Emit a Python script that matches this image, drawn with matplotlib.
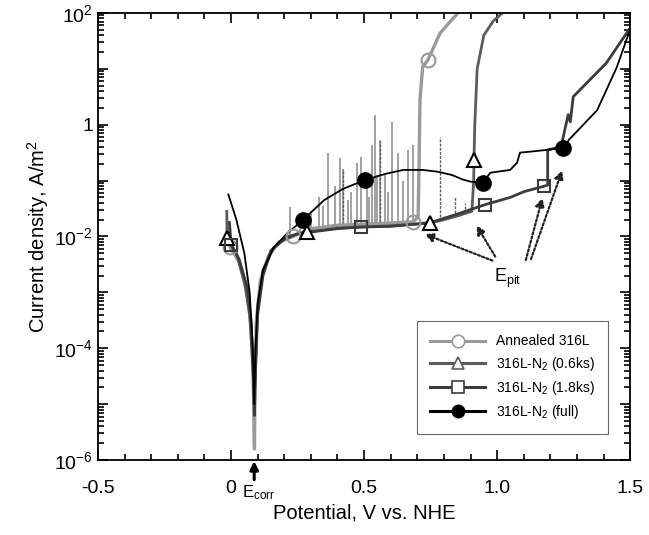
import numpy as np
import matplotlib
matplotlib.use("Agg")
import matplotlib.pyplot as plt
from matplotlib.ticker import FixedLocator, LogLocator, NullFormatter, MultipleLocator
from matplotlib.transforms import blended_transform_factory

plt.rcParams['font.family'] = ['Liberation Sans', 'DejaVu Sans']
plt.rcParams['mathtext.fontset'] = 'custom'
plt.rcParams['mathtext.rm'] = 'Liberation Sans'
plt.rcParams['mathtext.it'] = 'Liberation Sans'

# ----------- curves (V vs NHE, log10 of A/m2) ---------
ann_v = [-0.006, -0.004, 0.03, 0.06, 0.075, 0.083, 0.086, 0.088, 0.090, 0.095, 0.11, 0.14,
         0.18, 0.233, 0.30, 0.40, 0.50, 0.60, 0.684, 0.703, 0.707, 0.71, 0.72, 0.74, 0.786, 0.853]
ann_log = [-1.85, -2.19, -2.45, -3.0, -3.6, -4.5, -5.4, -5.8, -4.6, -3.5, -2.8, -2.35,
           -2.1, -2.0, -1.86, -1.8, -1.78, -1.76, -1.74, -1.65, -0.6, 0.44, 1.03, 1.16, 1.64, 2.0]
ann_mv = [-0.004, 0.233, 0.684, 0.74]
ann_ml = [-2.19, -2.0, -1.74, 1.16]
# metastable pitting spikes of the annealed steel
ann_spk_v = [0.222, 0.26, 0.30, 0.33, 0.345, 0.365, 0.39, 0.41, 0.42, 0.44, 0.45, 0.474,
             0.49, 0.51, 0.52, 0.53, 0.541, 0.55, 0.56, 0.58, 0.59, 0.605, 0.628, 0.645,
             0.665, 0.684]
ann_spk_top = [-1.47, -1.6, -1.55, -1.3, -1.45, -0.50, -1.1, -0.59, -0.80, -1.35, -1.2, -0.68,
               -0.58, -1.0, -1.3, -0.36, 0.18, -0.9, -0.27, -0.9, -1.2, 0.05, -0.50, -1.0,
               -0.45, -0.36]

n06_v = [-0.016, -0.015, 0.02, 0.05, 0.07, 0.082, 0.087, 0.092, 0.10, 0.12, 0.16, 0.21,
         0.286, 0.40, 0.55, 0.70, 0.748, 0.80, 0.86, 0.905, 0.912, 0.913, 0.916, 0.925,
         0.95, 0.985, 1.02]
n06_log = [-1.55, -2.02, -2.3, -2.8, -3.4, -4.3, -5.0, -4.2, -3.3, -2.6, -2.2, -2.0,
           -1.92, -1.85, -1.82, -1.78, -1.76, -1.7, -1.62, -1.55, -1.0, -0.63, 0.0, 1.0,
           1.6, 1.85, 2.0]
n06_mv = [-0.015, 0.286, 0.748, 0.912]
n06_ml = [-2.02, -1.92, -1.76, -0.63]
n06_spk_v = [0.42, 0.56, 0.786, 0.84, 0.88]
n06_spk_top = [-0.8, -0.3, -0.22, -1.3, -1.4]

n18_v = [-0.006, 0.0, 0.03, 0.06, 0.075, 0.084, 0.088, 0.092, 0.10, 0.12, 0.15, 0.20,
         0.25, 0.40, 0.49, 0.60, 0.75, 0.85, 0.955, 1.05, 1.10, 1.177, 1.19, 1.19,
         1.24, 1.267, 1.275, 1.286, 1.41, 1.49, 1.50]
n18_log = [-1.75, -2.15, -2.4, -2.9, -3.5, -4.5, -5.2, -4.4, -3.4, -2.7, -2.25, -2.05,
           -1.95, -1.86, -1.83, -1.82, -1.75, -1.6, -1.43, -1.3, -1.2, -1.1, -1.08, -0.45,
           -0.40, 0.18, 0.05, 0.5, 1.1, 1.66, 1.73]
n18_mv = [0.0, 0.49, 0.955, 1.177]
n18_ml = [-2.15, -1.83, -1.43, -1.1]

full_v = [-0.01, 0.02, 0.05, 0.07, 0.082, 0.087, 0.092, 0.10, 0.12, 0.16, 0.21, 0.271,
          0.35, 0.42, 0.504, 0.58, 0.647, 0.72, 0.774, 0.83, 0.87, 0.90, 0.947, 0.974,
          1.049, 1.075, 1.086, 1.11, 1.19, 1.248, 1.27, 1.376, 1.45, 1.49, 1.50]
full_log = [-1.25, -1.7, -2.3, -3.0, -4.0, -5.0, -4.0, -3.2, -2.6, -2.2, -1.95, -1.70,
            -1.35, -1.15, -0.99, -0.88, -0.81, -0.81, -0.84, -0.9, -0.98, -1.02, -1.04, -0.86,
            -0.81, -0.68, -0.5, -0.49, -0.45, -0.415, -0.27, 0.26, 1.03, 1.57, 1.7]
full_mv = [0.271, 0.504, 0.947, 1.248]
full_ml = [-1.70, -0.99, -1.04, -0.415]

e_corr = 0.087
# E_pit arrows: (tail V, tail log i, head V, head log i)
pit_arrows = [(0.992, -2.45, 0.718, -1.94),
              (0.998, -2.40, 0.917, -1.76),
              (1.105, -2.47, 1.173, -1.26),
              (1.124, -2.45, 1.248, -0.77)]

labels = ['Annealed 316L', '316L-N$_2$ (0.6ks)', '316L-N$_2$ (1.8ks)', '316L-N$_2$ (full)']

c_ann, c_06, c_18, c_full = '#9a9a9a', '#5c5c5c', '#3c3c3c', 'black'

fig = plt.figure(figsize=(6.49, 5.35), dpi=100)
ax = fig.add_axes([0.151, 0.140, 0.820, 0.836])

p = lambda l: 10.0 ** np.asarray(l)

# spikes first so the curves sit on top
ax.vlines(ann_spk_v, p(np.interp(ann_spk_v, ann_v, ann_log)), p(ann_spk_top), color=c_ann, lw=1.3)
ax.vlines(n06_spk_v, p(np.interp(n06_spk_v, n06_v, n06_log)), p(n06_spk_top), color=c_06, lw=1.0,
          linestyles=(0, (2, 1)))

ax.plot(ann_v, p(ann_log), color=c_ann, lw=2.4)
ax.plot(n06_v, p(n06_log), color=c_06, lw=2.0)
ax.plot(n18_v, p(n18_log), color=c_18, lw=2.0)
ax.plot(full_v, p(full_log), color=c_full, lw=1.3)

ms = 10
ax.plot(ann_mv, p(ann_ml), 'o', ms=ms, mfc='none', mec=c_ann, mew=1.5)
ax.plot(n06_mv, p(n06_ml), '^', ms=ms, mfc='white', mec='black', mew=1.5)
ax.plot(n18_mv, p(n18_ml), 's', ms=ms - 1, mfc='none', mec=c_18, mew=1.5)
ax.plot(full_mv, p(full_ml), 'o', ms=ms + 1, mfc='black', mec='black')

# legend proxies
h = [ax.plot([], [], color=c_ann, lw=2.2, marker='o', ms=9, mfc='white', mec=c_ann, mew=1.2)[0],
     ax.plot([], [], color=c_06, lw=2.2, marker='^', ms=9, mfc='white', mec=c_06, mew=1.2)[0],
     ax.plot([], [], color=c_18, lw=2.2, marker='s', ms=9, mfc='white', mec=c_18, mew=1.2)[0],
     ax.plot([], [], color=c_full, lw=2.2, marker='o', ms=9, mfc='black', mec='black')[0]]
leg = ax.legend(h, labels, loc='lower right', bbox_to_anchor=(0.971, 0.042), fontsize=10,
                fancybox=False, edgecolor='#444444', handlelength=3.9, borderpad=0.95,
                labelspacing=0.45)
leg.get_frame().set_linewidth(0.8)

ax.set_yscale('log')
ax.set_xlim(-0.5, 1.5)
ax.set_ylim(1e-6, 1e2)
ax.xaxis.set_major_locator(FixedLocator([-0.5, 0, 0.5, 1.0, 1.5]))
ax.set_xticklabels(['-0.5', '0', '0.5', '1.0', '1.5'])
ax.xaxis.set_minor_locator(MultipleLocator(0.1))
ax.yaxis.set_major_locator(LogLocator(base=10, numticks=20))
ax.yaxis.set_minor_locator(LogLocator(base=10, subs=np.arange(2, 10), numticks=20))
ax.yaxis.set_minor_formatter(NullFormatter())
ax.set_yticks([1e-6, 1e-5, 1e-4, 1e-3, 1e-2, 1e-1, 1, 10, 100])
ax.set_yticklabels(['10$^{-6}$', '', '10$^{-4}$', '', '10$^{-2}$', '', '1', '', '10$^{2}$'])
ax.tick_params(which='both', direction='in', top=True, right=True, labelsize=14, width=1.2)
ax.tick_params(which='major', length=7)
ax.tick_params(which='minor', length=4)
ax.tick_params(axis='x', pad=14)
for s in ax.spines.values():
    s.set_linewidth(1.3)

ax.set_xlabel('Potential, V vs. NHE', fontsize=14.5, labelpad=5)
ax.set_ylabel('Current density, A/m$^2$', fontsize=14.5, labelpad=2)

tr = blended_transform_factory(ax.transData, ax.transAxes)
ax.annotate('', xy=(e_corr, 0.004), xycoords=tr, xytext=(e_corr, -0.05), textcoords=tr,
            arrowprops=dict(arrowstyle='-|>', color='black', lw=2.2, mutation_scale=12),
            annotation_clip=False)
ax.text(0.042, -0.052, 'E$_{\\mathrm{corr}}$', transform=tr, fontsize=12, va='top', ha='left')

for tv, tl, hv, hl in pit_arrows:
    ax.annotate('', xy=(hv, 10 ** hl), xytext=(tv, 10 ** tl),
                arrowprops=dict(arrowstyle='-|>', color='#222222', lw=1.6, linestyle=(0, (1, 1)),
                                mutation_scale=13))
ax.text(1.04, 10 ** -2.55, 'E$_{\\mathrm{pit}}$', fontsize=13, ha='center', va='top')

fig.savefig('out.png', dpi=100)
